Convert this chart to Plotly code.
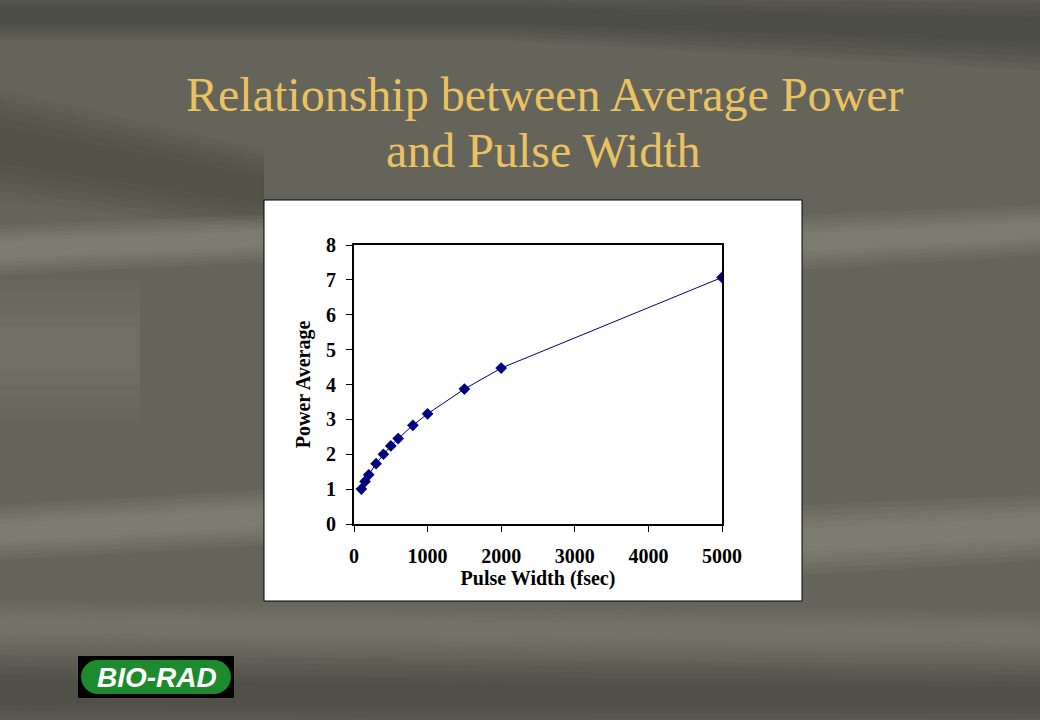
import plotly.graph_objects as go

# Data
pulse_width_fsec = [100, 150, 200, 300, 400, 500, 600, 800, 1000, 1500, 2000, 5000]
power_average = [1.0, 1.22, 1.41, 1.73, 2.0, 2.24, 2.45, 2.83, 3.16, 3.87, 4.47, 7.07]
x_ticks = [0, 1000, 2000, 3000, 4000, 5000]
y_ticks = [0, 1, 2, 3, 4, 5, 6, 7, 8]

W, H = 1040, 720
def px(x): return x / W
def py(y): return 1 - y / H

NAVY = "#000080"
SERIF = "Liberation Serif, Times New Roman, serif"
GREEN = "#1d8a2e"

fig = go.Figure()
fig.add_trace(go.Scatter(
    x=pulse_width_fsec, y=power_average, mode="lines+markers",
    line=dict(color=NAVY, width=1),
    marker=dict(symbol="diamond", size=9, color=NAVY),
    showlegend=False, hoverinfo="x+y",
))

shapes = []

def soft_band(pts, color, steps=5, op=0.07):
    """Decorative soft-edged band (background texture); pts = (x, ytop, ybot) columns."""
    for k in range(steps):
        f = k / steps * 0.42
        top = [(x, yt + f * (yb - yt)) for x, yt, yb in pts]
        bot = [(x, yb - f * (yb - yt)) for x, yt, yb in reversed(pts)]
        path = "M " + " L ".join(f"{px(x):.4f},{py(y):.4f}" for x, y in top + bot) + " Z"
        shapes.append(dict(type="path", xref="paper", yref="paper", path=path,
                           fillcolor=color, opacity=op, line=dict(width=0), layer="below"))

LIGHT, DARK = "#b4b4a4", "#30302a"
soft_band([(0, -10, 40), (500, -10, 40), (1040, -10, 70)], DARK, op=0.09)
soft_band([(0, 90, 200), (264, 150, 230)], DARK, op=0.08)
soft_band([(0, 225, 275), (264, 215, 262)], LIGHT, op=0.08)
soft_band([(0, 280, 420), (140, 280, 420)], LIGHT, op=0.04)
soft_band([(0, 505, 560), (264, 490, 545)], LIGHT, op=0.08)
soft_band([(802, 215, 270), (1040, 205, 255)], LIGHT, op=0.07)
soft_band([(802, 505, 575), (1040, 495, 560)], LIGHT, op=0.08)
soft_band([(0, 600, 650), (1040, 610, 660)], LIGHT, op=0.05)
soft_band([(0, 655, 730), (1040, 665, 730)], DARK, op=0.07)

shapes += [
    # white chart box
    dict(type="rect", xref="paper", yref="paper", x0=px(264), x1=px(802), y0=py(601), y1=py(200),
         fillcolor="white", line=dict(color="black", width=1), layer="below"),
    # logo black box
    dict(type="rect", xref="paper", yref="paper", x0=px(78), x1=px(234), y0=py(698), y1=py(656),
         fillcolor="black", line=dict(width=0), layer="above"),
    # green pill
    dict(type="rect", xref="paper", yref="paper", x0=px(98), x1=px(214), y0=py(694), y1=py(660),
         fillcolor=GREEN, line=dict(width=0), layer="above"),
    dict(type="circle", xref="paper", yref="paper", x0=px(81), x1=px(115), y0=py(694), y1=py(660),
         fillcolor=GREEN, line=dict(width=0), layer="above"),
    dict(type="circle", xref="paper", yref="paper", x0=px(197), x1=px(231), y0=py(694), y1=py(660),
         fillcolor=GREEN, line=dict(width=0), layer="above"),
]

TITLE_COLOR = "#ebc262"
annotations = [
    dict(text="Relationship between Average Power", xref="paper", yref="paper",
         x=px(545), y=py(95), showarrow=False, xanchor="center", yanchor="middle",
         font=dict(family=SERIF, size=48, color=TITLE_COLOR)),
    dict(text="and Pulse Width", xref="paper", yref="paper",
         x=px(543), y=py(150), showarrow=False, xanchor="center", yanchor="middle",
         font=dict(family=SERIF, size=48, color=TITLE_COLOR)),
    dict(text="<b><i>BIO-RAD</i></b>", xref="paper", yref="paper", x=px(157), y=py(677),
         showarrow=False, xanchor="center", yanchor="middle",
         font=dict(family="Liberation Sans, Arial, sans-serif", size=28, color="white")),
]

X_DOMAIN = [px(354), px(722)]
fig.update_layout(
    width=W, height=H, autosize=False,
    margin=dict(l=0, r=0, t=0, b=0, pad=0),
    paper_bgcolor="#64645a",
    plot_bgcolor="white",
    shapes=shapes, annotations=annotations,
    xaxis=dict(domain=X_DOMAIN, range=[0, 5000], tickvals=x_ticks, automargin=False,
               showgrid=False, zeroline=False, showline=True, linecolor="black", linewidth=2,
               mirror=True, ticks="outside", ticklen=6, tickcolor="black", tickwidth=1,
               ticklabelstandoff=7,
               tickfont=dict(family=SERIF, size=20, color="black", weight="bold"),
               title=dict(text="<b>Pulse Width (fsec)</b>", standoff=0,
                          font=dict(family=SERIF, size=20, color="black"))),
    # inner half of the crossing x tick marks
    xaxis2=dict(domain=X_DOMAIN, range=[0, 5000], tickvals=x_ticks, overlaying="x", anchor="y",
                side="bottom", automargin=False, showgrid=False, zeroline=False, showline=False,
                ticks="inside", ticklen=5, tickcolor="black", tickwidth=1, showticklabels=False),
    yaxis=dict(domain=[py(524), py(245)], range=[0, 8], tickvals=y_ticks, automargin=False,
               showgrid=False, zeroline=False, showline=True, linecolor="black", linewidth=2,
               mirror=True, ticks="outside", ticklen=6, tickcolor="black", tickwidth=1,
               ticklabelstandoff=6,
               tickfont=dict(family=SERIF, size=20, color="black", weight="bold"),
               title=dict(text="<b>Power Average</b>", standoff=10,
                          font=dict(family=SERIF, size=20, color="black"))),
)

fig.write_html("out.html", config={"responsive": False, "displayModeBar": False},
               post_script="document.body.style.margin='0';document.body.style.overflow='hidden';")
